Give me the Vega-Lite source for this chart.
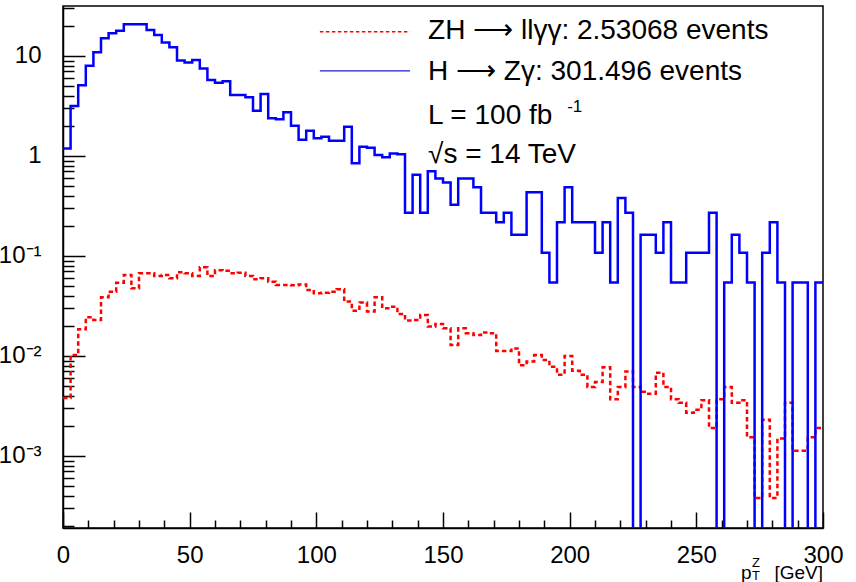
{
  "$schema": "https://vega.github.io/schema/vega-lite/v6.json",
  "width": 760,
  "height": 522,
  "autosize": {"type": "none"},
  "padding": {"left": 63, "top": 6, "right": 33, "bottom": 54},
  "background": "white",
  "config": {
    "view": {"stroke": "black", "strokeWidth": 1.5},
    "font": "Liberation Sans",
    "text": {"font": "Liberation Sans", "color": "black"},
    "axis": {"labelOverlap": false, "labelFlush": false, "labelBound": false, "grid": false, "title": null,
             "domainColor": "black", "domainWidth": 1.5, "tickColor": "black", "tickWidth": 1.5,
             "labelFont": "Liberation Sans", "labelFontSize": 24, "labelColor": "black"}
  },
  "resolve": {"axis": {"x": "independent", "y": "independent"}},
  "datasets": {
    "zh": [
      {"pt": 0, "events": 0.0038}, {"pt": 3, "events": 0.0102}, {"pt": 6, "events": 0.0185}, {"pt": 9, "events": 0.0244},
      {"pt": 12, "events": 0.0229}, {"pt": 15, "events": 0.0386}, {"pt": 18, "events": 0.044}, {"pt": 21, "events": 0.054},
      {"pt": 24, "events": 0.0646}, {"pt": 27, "events": 0.0475}, {"pt": 30, "events": 0.067}, {"pt": 33, "events": 0.067},
      {"pt": 36, "events": 0.063}, {"pt": 39, "events": 0.0646}, {"pt": 42, "events": 0.0598}, {"pt": 45, "events": 0.0687},
      {"pt": 48, "events": 0.067}, {"pt": 51, "events": 0.063}, {"pt": 54, "events": 0.077}, {"pt": 57, "events": 0.063},
      {"pt": 60, "events": 0.072}, {"pt": 63, "events": 0.071}, {"pt": 66, "events": 0.067}, {"pt": 69, "events": 0.068},
      {"pt": 72, "events": 0.063}, {"pt": 75, "events": 0.0585}, {"pt": 78, "events": 0.0598}, {"pt": 81, "events": 0.0554},
      {"pt": 84, "events": 0.0513}, {"pt": 87, "events": 0.0513}, {"pt": 90, "events": 0.051}, {"pt": 93, "events": 0.052},
      {"pt": 96, "events": 0.0457}, {"pt": 99, "events": 0.0423}, {"pt": 102, "events": 0.043}, {"pt": 105, "events": 0.044},
      {"pt": 108, "events": 0.0465}, {"pt": 111, "events": 0.035}, {"pt": 114, "events": 0.0284}, {"pt": 117, "events": 0.0343},
      {"pt": 120, "events": 0.0278}, {"pt": 123, "events": 0.0386}, {"pt": 126, "events": 0.030}, {"pt": 129, "events": 0.0311},
      {"pt": 132, "events": 0.0263}, {"pt": 135, "events": 0.0226}, {"pt": 138, "events": 0.0229}, {"pt": 141, "events": 0.0257},
      {"pt": 144, "events": 0.0197}, {"pt": 147, "events": 0.0209}, {"pt": 150, "events": 0.0189}, {"pt": 153, "events": 0.0129},
      {"pt": 156, "events": 0.0189}, {"pt": 159, "events": 0.0169}, {"pt": 162, "events": 0.0162}, {"pt": 165, "events": 0.0172},
      {"pt": 168, "events": 0.0169}, {"pt": 171, "events": 0.0112}, {"pt": 174, "events": 0.0112}, {"pt": 177, "events": 0.0119},
      {"pt": 180, "events": 0.0081}, {"pt": 183, "events": 0.0088}, {"pt": 186, "events": 0.0102}, {"pt": 189, "events": 0.0091},
      {"pt": 192, "events": 0.0078}, {"pt": 195, "events": 0.0065}, {"pt": 198, "events": 0.010}, {"pt": 201, "events": 0.0071},
      {"pt": 204, "events": 0.0065}, {"pt": 207, "events": 0.0049}, {"pt": 210, "events": 0.0055}, {"pt": 213, "events": 0.0077},
      {"pt": 216, "events": 0.0037}, {"pt": 219, "events": 0.0049}, {"pt": 222, "events": 0.0070}, {"pt": 225, "events": 0.0049},
      {"pt": 228, "events": 0.0044}, {"pt": 231, "events": 0.0042}, {"pt": 234, "events": 0.0068}, {"pt": 237, "events": 0.0049},
      {"pt": 240, "events": 0.0037}, {"pt": 243, "events": 0.0034}, {"pt": 246, "events": 0.0027}, {"pt": 249, "events": 0.0029},
      {"pt": 252, "events": 0.0036}, {"pt": 255, "events": 0.0019}, {"pt": 258, "events": 0.0037}, {"pt": 261, "events": 0.0049},
      {"pt": 264, "events": 0.0034}, {"pt": 267, "events": 0.0036}, {"pt": 270, "events": 0.00154}, {"pt": 273, "events": 0.00038},
      {"pt": 276, "events": 0.0023}, {"pt": 279, "events": 0.00038}, {"pt": 282, "events": 0.0015}, {"pt": 285, "events": 0.0034},
      {"pt": 288, "events": 0.00113}, {"pt": 291, "events": 0.00113}, {"pt": 294, "events": 0.00154}, {"pt": 297, "events": 0.0019},
      {"pt": 300, "events": 0.0019}
    ],
    "hz": [
      {"pt": 0, "events": 1.19}, {"pt": 3, "events": 3.16}, {"pt": 6, "events": 5.1}, {"pt": 9, "events": 8.0},
      {"pt": 12, "events": 10.9}, {"pt": 15, "events": 15.0}, {"pt": 18, "events": 16.9}, {"pt": 21, "events": 17.9},
      {"pt": 24, "events": 20.7}, {"pt": 27, "events": 20.7}, {"pt": 30, "events": 20.7}, {"pt": 33, "events": 18.2},
      {"pt": 36, "events": 16.2}, {"pt": 39, "events": 13.6}, {"pt": 42, "events": 12.2}, {"pt": 45, "events": 9.0},
      {"pt": 48, "events": 8.6}, {"pt": 51, "events": 9.1}, {"pt": 54, "events": 7.5}, {"pt": 57, "events": 5.75},
      {"pt": 60, "events": 5.4}, {"pt": 63, "events": 5.6}, {"pt": 66, "events": 4.07}, {"pt": 69, "events": 4.07},
      {"pt": 72, "events": 3.86}, {"pt": 75, "events": 2.84}, {"pt": 78, "events": 4.17}, {"pt": 81, "events": 2.38},
      {"pt": 84, "events": 2.33}, {"pt": 87, "events": 2.73}, {"pt": 90, "events": 2.01}, {"pt": 93, "events": 1.45},
      {"pt": 96, "events": 1.79}, {"pt": 99, "events": 1.50}, {"pt": 102, "events": 1.56}, {"pt": 105, "events": 1.42},
      {"pt": 108, "events": 1.42}, {"pt": 111, "events": 1.96}, {"pt": 114, "events": 0.845}, {"pt": 117, "events": 1.24},
      {"pt": 120, "events": 1.21}, {"pt": 123, "events": 1.02}, {"pt": 126, "events": 0.97}, {"pt": 129, "events": 1.06},
      {"pt": 132, "events": 1.04}, {"pt": 135, "events": 0.271}, {"pt": 138, "events": 0.650}, {"pt": 141, "events": 0.271},
      {"pt": 144, "events": 0.705}, {"pt": 147, "events": 0.596}, {"pt": 150, "events": 0.542}, {"pt": 153, "events": 0.325},
      {"pt": 156, "events": 0.596}, {"pt": 159, "events": 0.596}, {"pt": 162, "events": 0.488}, {"pt": 165, "events": 0.271},
      {"pt": 168, "events": 0.271}, {"pt": 171, "events": 0.217}, {"pt": 174, "events": 0.271}, {"pt": 177, "events": 0.163},
      {"pt": 180, "events": 0.163}, {"pt": 183, "events": 0.434}, {"pt": 186, "events": 0.434}, {"pt": 189, "events": 0.108},
      {"pt": 192, "events": 0.0542}, {"pt": 195, "events": 0.217}, {"pt": 198, "events": 0.488}, {"pt": 201, "events": 0.217},
      {"pt": 204, "events": 0.217}, {"pt": 207, "events": 0.217}, {"pt": 210, "events": 0.108}, {"pt": 213, "events": 0.217},
      {"pt": 216, "events": 0.0542}, {"pt": 219, "events": 0.379}, {"pt": 222, "events": 0.271}, {"pt": 225, "events": 0.00001},
      {"pt": 228, "events": 0.163}, {"pt": 231, "events": 0.163}, {"pt": 234, "events": 0.108}, {"pt": 237, "events": 0.217},
      {"pt": 240, "events": 0.0542}, {"pt": 243, "events": 0.0542}, {"pt": 246, "events": 0.108}, {"pt": 249, "events": 0.108},
      {"pt": 252, "events": 0.108}, {"pt": 255, "events": 0.271}, {"pt": 258, "events": 0.00001}, {"pt": 261, "events": 0.0542},
      {"pt": 264, "events": 0.163}, {"pt": 267, "events": 0.108}, {"pt": 270, "events": 0.0542}, {"pt": 273, "events": 0.00001},
      {"pt": 276, "events": 0.108}, {"pt": 279, "events": 0.217}, {"pt": 282, "events": 0.0542}, {"pt": 285, "events": 0.00001},
      {"pt": 288, "events": 0.0542}, {"pt": 291, "events": 0.0542}, {"pt": 294, "events": 0.00001}, {"pt": 297, "events": 0.0542},
      {"pt": 300, "events": 0.0542}
    ]
  },
  "layer": [
    {
      "data": {"name": "zh"},
      "mark": {"type": "line", "interpolate": "step-after", "color": "#ff0000", "strokeWidth": 2.5, "strokeDash": [4.5, 3], "clip": true},
      "encoding": {
        "x": {
          "field": "pt", "type": "quantitative",
          "scale": {"domain": [0, 300], "nice": false, "zero": false},
          "axis": {
            "orient": "bottom",
            "values": [10, 20, 30, 40, 60, 70, 80, 90, 110, 120, 130, 140, 160, 170, 180, 190, 210, 220, 230, 240, 260, 270, 280, 290],
            "labels": false, "domain": true, "tickSize": -8
          }
        },
        "y": {
          "field": "events", "type": "quantitative",
          "scale": {"type": "log", "domain": [0.0001905, 31.6], "nice": false},
          "axis": {
            "orient": "left",
            "values": [0.0002, 0.0003, 0.0004, 0.0005, 0.0006, 0.0007, 0.0008, 0.0009,
                       0.002, 0.003, 0.004, 0.005, 0.006, 0.007, 0.008, 0.009,
                       0.02, 0.03, 0.04, 0.05, 0.06, 0.07, 0.08, 0.09,
                       0.2, 0.3, 0.4, 0.5, 0.6, 0.7, 0.8, 0.9,
                       2, 3, 4, 5, 6, 7, 8, 9, 20, 30],
            "labels": false, "domain": true, "tickSize": -11
          }
        }
      }
    },
    {
      "data": {"name": "hz"},
      "mark": {"type": "line", "interpolate": "step-after", "color": "#0000ff", "strokeWidth": 2.5, "clip": true},
      "encoding": {
        "x": {
          "field": "pt", "type": "quantitative",
          "axis": {
            "orient": "bottom",
            "values": [0, 50, 100, 150, 200, 250, 300],
            "domain": false, "tickSize": -16, "labelPadding": 31
          }
        },
        "y": {
          "field": "events", "type": "quantitative",
          "axis": {
            "orient": "left",
            "values": [0.001, 0.01, 0.1, 1, 10],
            "labelExpr": "datum.value == 10 ? '10' : datum.value == 1 ? '1' : datum.value == 0.1 ? '10⁻¹' : datum.value == 0.01 ? '10⁻²' : '10⁻³'",
            "domain": false, "tickSize": -22, "labelPadding": 44
          }
        }
      }
    },
    {
      "data": {"values": [{}]},
      "mark": {"type": "rule", "color": "#ff0000", "strokeWidth": 1.5, "strokeDash": [3.5, 2.5]},
      "encoding": {"x": {"datum": 101.4, "type": "quantitative", "axis": null}, "x2": {"datum": 137.0}, "y": {"datum": 17.5, "type": "quantitative", "axis": null}}
    },
    {
      "data": {"values": [{}]},
      "mark": {"type": "rule", "color": "#2020d0", "strokeWidth": 1.2},
      "encoding": {"x": {"datum": 101.4, "type": "quantitative", "axis": null}, "x2": {"datum": 137.0}, "y": {"datum": 7.08, "type": "quantitative", "axis": null}}
    },
    {
      "data": {"values": [{}]},
      "mark": {"type": "text", "align": "left", "baseline": "alphabetic", "fontSize": 28},
      "encoding": {"x": {"datum": 144.1, "type": "quantitative", "axis": null}, "y": {"datum": 14.7, "type": "quantitative", "axis": null}, "text": {"value": "ZH ⟶ llγγ: 2.53068 events"}}
    },
    {
      "data": {"values": [{}]},
      "mark": {"type": "text", "align": "left", "baseline": "alphabetic", "fontSize": 28},
      "encoding": {"x": {"datum": 144.1, "type": "quantitative", "axis": null}, "y": {"datum": 5.75, "type": "quantitative", "axis": null}, "text": {"value": "H ⟶ Zγ: 301.496 events"}}
    },
    {
      "data": {"values": [{}]},
      "mark": {"type": "text", "align": "left", "baseline": "alphabetic", "fontSize": 28},
      "encoding": {"x": {"datum": 144.1, "type": "quantitative", "axis": null}, "y": {"datum": 2.09, "type": "quantitative", "axis": null}, "text": {"value": "L = 100 fb"}}
    },
    {
      "data": {"values": [{}]},
      "mark": {"type": "text", "align": "left", "baseline": "alphabetic", "fontSize": 17},
      "encoding": {"x": {"datum": 199, "type": "quantitative", "axis": null}, "y": {"datum": 2.75, "type": "quantitative", "axis": null}, "text": {"value": "-1"}}
    },
    {
      "data": {"values": [{}]},
      "mark": {"type": "text", "align": "left", "baseline": "alphabetic", "fontSize": 28},
      "encoding": {"x": {"datum": 144.1, "type": "quantitative", "axis": null}, "y": {"datum": 0.851, "type": "quantitative", "axis": null}, "text": {"value": "√s = 14 TeV"}}
    },
    {
      "data": {"values": [{}]},
      "mark": {"type": "text", "align": "left", "baseline": "alphabetic", "fontSize": 19},
      "encoding": {"x": {"datum": 267.6, "type": "quantitative", "axis": null}, "y": {"datum": 0.0000589, "type": "quantitative", "axis": null}, "text": {"value": "p"}}
    },
    {
      "data": {"values": [{}]},
      "mark": {"type": "text", "align": "left", "baseline": "alphabetic", "fontSize": 13},
      "encoding": {"x": {"datum": 272.0, "type": "quantitative", "axis": null}, "y": {"datum": 0.0000776, "type": "quantitative", "axis": null}, "text": {"value": "Z"}}
    },
    {
      "data": {"values": [{}]},
      "mark": {"type": "text", "align": "left", "baseline": "alphabetic", "fontSize": 13},
      "encoding": {"x": {"datum": 272.0, "type": "quantitative", "axis": null}, "y": {"datum": 0.0000569, "type": "quantitative", "axis": null}, "text": {"value": "T"}}
    },
    {
      "data": {"values": [{}]},
      "mark": {"type": "text", "align": "right", "baseline": "alphabetic", "fontSize": 19},
      "encoding": {"x": {"datum": 300, "type": "quantitative", "axis": null}, "y": {"datum": 0.0000589, "type": "quantitative", "axis": null}, "text": {"value": "[GeV]"}}
    }
  ]
}
